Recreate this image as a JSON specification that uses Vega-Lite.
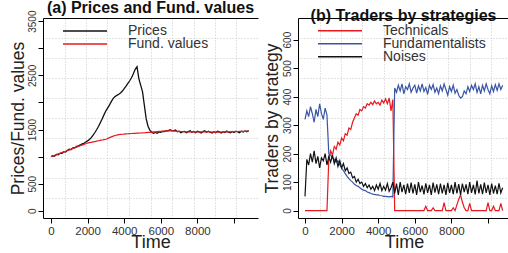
{
  "$schema": "https://vega.github.io/schema/vega-lite/v6.json",
  "background": "white",
  "padding": {"left": 9, "top": 0, "right": 0, "bottom": 0},
  "bounds": "flush",
  "spacing": 40,
  "resolve": {"scale": {"color": "independent"}, "legend": {"color": "independent"}},
  "config": {
    "view": {"stroke": null},
    "font": "Liberation Sans",
    "axis": {"domainColor": "black", "tickColor": "black", "labelColor": "#333333", "titleColor": "#222222", "labelFont": "Liberation Sans", "titleFont": "Liberation Sans", "titleFontWeight": "normal", "labelOverlap": false, "labelFlush": false, "gridColor": "#c8c8c8", "gridDash": [1, 2], "gridWidth": 1},
    "title": {"fontSize": 16, "fontWeight": "bold", "font": "Liberation Sans", "color": "#111111", "offset": -6, "anchor": "middle", "frame": "group"}
  },
  "datasets": {
    "left": [
      {"t":0,"p":1000,"f":1000},{"t":100,"p":1015,"f":1012},{"t":200,"p":1010,"f":1025},{"t":300,"p":1040,"f":1037},{"t":400,"p":1035,"f":1050},
      {"t":500,"p":1065,"f":1062},{"t":600,"p":1060,"f":1075},{"t":700,"p":1090,"f":1087},{"t":800,"p":1085,"f":1100},{"t":900,"p":1115,"f":1112},
      {"t":1000,"p":1135,"f":1125},{"t":1100,"p":1130,"f":1137},{"t":1200,"p":1160,"f":1150},{"t":1300,"p":1165,"f":1162},{"t":1400,"p":1190,"f":1175},
      {"t":1500,"p":1200,"f":1187},{"t":1600,"p":1215,"f":1200},{"t":1700,"p":1235,"f":1212},{"t":1800,"p":1245,"f":1225},{"t":1900,"p":1270,"f":1237},
      {"t":2000,"p":1290,"f":1250},{"t":2100,"p":1315,"f":1257},{"t":2200,"p":1350,"f":1264},{"t":2300,"p":1395,"f":1271},{"t":2400,"p":1445,"f":1278},
      {"t":2500,"p":1500,"f":1285},{"t":2600,"p":1560,"f":1292},{"t":2700,"p":1630,"f":1299},{"t":2800,"p":1700,"f":1306},{"t":2900,"p":1775,"f":1313},
      {"t":3000,"p":1845,"f":1320},{"t":3100,"p":1900,"f":1335},{"t":3200,"p":1955,"f":1350},{"t":3300,"p":2020,"f":1365},{"t":3400,"p":2075,"f":1378},
      {"t":3500,"p":2110,"f":1390},{"t":3600,"p":2130,"f":1398},{"t":3700,"p":2150,"f":1404},{"t":3800,"p":2175,"f":1409},{"t":3900,"p":2210,"f":1413},
      {"t":4000,"p":2255,"f":1416},{"t":4100,"p":2300,"f":1419},{"t":4200,"p":2350,"f":1422},{"t":4300,"p":2400,"f":1424},{"t":4400,"p":2455,"f":1426},
      {"t":4500,"p":2530,"f":1428},{"t":4600,"p":2610,"f":1430},{"t":4700,"p":2660,"f":1432},{"t":4800,"p":2440,"f":1434},{"t":4900,"p":2320,"f":1436},
      {"t":5000,"p":2200,"f":1438},{"t":5100,"p":1950,"f":1440},{"t":5200,"p":1700,"f":1443},{"t":5300,"p":1560,"f":1446},{"t":5400,"p":1490,"f":1449},
      {"t":5500,"p":1450,"f":1452},{"t":5600,"p":1430,"f":1455},{"t":5700,"p":1445,"f":1458},{"t":5800,"p":1430,"f":1461},{"t":5900,"p":1455,"f":1464},
      {"t":6000,"p":1450,"f":1467},{"t":6100,"p":1465,"f":1470},{"t":6200,"p":1460,"f":1472},{"t":6300,"p":1480,"f":1474},{"t":6400,"p":1475,"f":1476},
      {"t":6500,"p":1495,"f":1478},{"t":6600,"p":1480,"f":1476},{"t":6700,"p":1475,"f":1473},{"t":6800,"p":1490,"f":1470},{"t":6900,"p":1460,"f":1467},
      {"t":7000,"p":1470,"f":1465},{"t":7100,"p":1440,"f":1463},{"t":7200,"p":1460,"f":1461},{"t":7300,"p":1465,"f":1459},{"t":7400,"p":1440,"f":1458},
      {"t":7500,"p":1460,"f":1457},{"t":7600,"p":1475,"f":1456},{"t":7700,"p":1450,"f":1455},{"t":7800,"p":1465,"f":1455},{"t":7900,"p":1440,"f":1454},
      {"t":8000,"p":1470,"f":1454},{"t":8100,"p":1455,"f":1455},{"t":8200,"p":1435,"f":1456},{"t":8300,"p":1460,"f":1457},{"t":8400,"p":1475,"f":1458},
      {"t":8500,"p":1450,"f":1457},{"t":8600,"p":1470,"f":1456},{"t":8700,"p":1450,"f":1455},{"t":8800,"p":1435,"f":1454},{"t":8900,"p":1460,"f":1453},
      {"t":9000,"p":1440,"f":1452},{"t":9100,"p":1470,"f":1452},{"t":9200,"p":1455,"f":1453},{"t":9300,"p":1435,"f":1454},{"t":9400,"p":1460,"f":1455},
      {"t":9500,"p":1445,"f":1456},{"t":9600,"p":1470,"f":1457},{"t":9700,"p":1450,"f":1458},{"t":9800,"p":1440,"f":1459},{"t":9900,"p":1465,"f":1460},
      {"t":10000,"p":1445,"f":1461},{"t":10100,"p":1470,"f":1462},{"t":10200,"p":1455,"f":1463},{"t":10300,"p":1440,"f":1464},{"t":10400,"p":1470,"f":1465},
      {"t":10500,"p":1455,"f":1466},{"t":10600,"p":1475,"f":1467},{"t":10700,"p":1460,"f":1468},{"t":10800,"p":1480,"f":1469}
    ],
    "right": [
      {"t":0,"te":0,"fu":320,"no":50},{"t":100,"te":0,"fu":350,"no":180},{"t":200,"te":0,"fu":330,"no":160},{"t":300,"te":0,"fu":365,"no":200},{"t":400,"te":0,"fu":340,"no":170},
      {"t":500,"te":0,"fu":310,"no":210},{"t":600,"te":0,"fu":355,"no":165},{"t":700,"te":0,"fu":330,"no":190},{"t":800,"te":0,"fu":375,"no":150},{"t":900,"te":0,"fu":340,"no":185},
      {"t":1000,"te":0,"fu":320,"no":175},{"t":1100,"te":0,"fu":360,"no":200},{"t":1200,"te":0,"fu":335,"no":160},{"t":1300,"te":180,"fu":200,"no":190},{"t":1400,"te":210,"fu":195,"no":170},
      {"t":1500,"te":195,"fu":185,"no":195},{"t":1600,"te":225,"fu":180,"no":165},{"t":1700,"te":215,"fu":170,"no":185},{"t":1800,"te":240,"fu":175,"no":155},{"t":1900,"te":230,"fu":160,"no":175},
      {"t":2000,"te":255,"fu":150,"no":150},{"t":2100,"te":245,"fu":140,"no":165},{"t":2200,"te":270,"fu":130,"no":140},{"t":2300,"te":265,"fu":120,"no":150},{"t":2400,"te":290,"fu":112,"no":130},
      {"t":2500,"te":285,"fu":105,"no":135},{"t":2600,"te":310,"fu":100,"no":115},{"t":2700,"te":325,"fu":92,"no":120},{"t":2800,"te":340,"fu":88,"no":100},{"t":2900,"te":335,"fu":85,"no":110},
      {"t":3000,"te":355,"fu":80,"no":95},{"t":3100,"te":350,"fu":75,"no":100},{"t":3200,"te":365,"fu":72,"no":85},{"t":3300,"te":360,"fu":70,"no":95},{"t":3400,"te":375,"fu":65,"no":80},
      {"t":3500,"te":370,"fu":63,"no":90},{"t":3600,"te":380,"fu":60,"no":75},{"t":3700,"te":372,"fu":58,"no":85},{"t":3800,"te":385,"fu":57,"no":70},{"t":3900,"te":375,"fu":55,"no":90},
      {"t":4000,"te":380,"fu":55,"no":75},{"t":4100,"te":370,"fu":53,"no":95},{"t":4200,"te":388,"fu":52,"no":70},{"t":4300,"te":378,"fu":50,"no":85},{"t":4400,"te":392,"fu":50,"no":72},
      {"t":4500,"te":375,"fu":49,"no":95},{"t":4600,"te":395,"fu":48,"no":68},{"t":4700,"te":350,"fu":50,"no":80},{"t":4800,"te":390,"fu":48,"no":100},{"t":4900,"te":0,"fu":430,"no":60},
      {"t":5000,"te":0,"fu":415,"no":95},{"t":5100,"te":0,"fu":440,"no":55},{"t":5200,"te":0,"fu":420,"no":100},{"t":5300,"te":0,"fu":445,"no":65},{"t":5400,"te":0,"fu":410,"no":90},
      {"t":5500,"te":0,"fu":435,"no":58},{"t":5600,"te":0,"fu":425,"no":95},{"t":5700,"te":0,"fu":445,"no":62},{"t":5800,"te":0,"fu":415,"no":98},{"t":5900,"te":0,"fu":430,"no":60},
      {"t":6000,"te":0,"fu":440,"no":92},{"t":6100,"te":0,"fu":412,"no":55},{"t":6200,"te":0,"fu":438,"no":100},{"t":6300,"te":0,"fu":420,"no":65},{"t":6400,"te":0,"fu":445,"no":88},
      {"t":6500,"te":0,"fu":418,"no":57},{"t":6600,"te":15,"fu":432,"no":96},{"t":6700,"te":0,"fu":408,"no":62},{"t":6800,"te":0,"fu":440,"no":90},{"t":6900,"te":0,"fu":425,"no":55},
      {"t":7000,"te":10,"fu":442,"no":98},{"t":7100,"te":0,"fu":415,"no":63},{"t":7200,"te":0,"fu":430,"no":92},{"t":7300,"te":0,"fu":410,"no":58},{"t":7400,"te":0,"fu":438,"no":95},
      {"t":7500,"te":0,"fu":420,"no":60},{"t":7600,"te":28,"fu":445,"no":90},{"t":7700,"te":0,"fu":425,"no":55},{"t":7800,"te":0,"fu":405,"no":97},{"t":7900,"te":0,"fu":435,"no":62},
      {"t":8000,"te":0,"fu":418,"no":90},{"t":8100,"te":10,"fu":440,"no":58},{"t":8200,"te":0,"fu":412,"no":100},{"t":8300,"te":20,"fu":425,"no":60},{"t":8400,"te":40,"fu":405,"no":93},
      {"t":8500,"te":55,"fu":395,"no":55},{"t":8600,"te":30,"fu":400,"no":95},{"t":8700,"te":10,"fu":420,"no":65},{"t":8800,"te":0,"fu":410,"no":92},{"t":8900,"te":0,"fu":435,"no":58},
      {"t":9000,"te":25,"fu":418,"no":100},{"t":9100,"te":0,"fu":440,"no":62},{"t":9200,"te":0,"fu":425,"no":90},{"t":9300,"te":0,"fu":445,"no":57},{"t":9400,"te":0,"fu":415,"no":105},
      {"t":9500,"te":0,"fu":435,"no":60},{"t":9600,"te":0,"fu":410,"no":92},{"t":9700,"te":0,"fu":440,"no":58},{"t":9800,"te":0,"fu":420,"no":98},{"t":9900,"te":0,"fu":445,"no":62},
      {"t":10000,"te":28,"fu":425,"no":90},{"t":10100,"te":0,"fu":410,"no":55},{"t":10200,"te":0,"fu":438,"no":95},{"t":10300,"te":15,"fu":418,"no":60},{"t":10400,"te":0,"fu":442,"no":88},
      {"t":10500,"te":0,"fu":422,"no":58},{"t":10600,"te":0,"fu":445,"no":96},{"t":10700,"te":25,"fu":425,"no":62},{"t":10800,"te":0,"fu":440,"no":80}
    ]
  },
  "hconcat": [
    {
      "width": 215,
      "height": 200,
      "title": {"text": "(a) Prices and Fund. values"},
      "data": {"name": "left"},
      "resolve": {"axis": {"x": "independent", "y": "independent"}},
      "layer": [
        {
          "mark": {"type": "line", "strokeWidth": 1.3},
          "encoding": {
            "x": {"field": "t", "type": "quantitative", "scale": {"domain": [-437, 11311], "nice": false, "zero": false},
              "axis": {"orient": "top", "grid": true, "values": [738, 1913, 3087, 4262, 5437, 6612, 7787, 8962, 10136], "ticks": false, "labels": false, "domain": true, "title": null, "minExtent": 0, "maxExtent": 0, "offset": 0}},
            "y": {"field": "p", "type": "quantitative", "scale": {"domain": [-133, 3558], "nice": false, "zero": false},
              "axis": {"orient": "left", "grid": true, "values": [236, 605, 974, 1343, 1713, 2082, 2451, 2820, 3189], "ticks": false, "labels": false, "domain": false, "title": null, "minExtent": 0, "maxExtent": 0}},
            "color": {"datum": "Prices", "type": "nominal",
              "scale": {"domain": ["Prices", "Fund. values"], "range": ["#111111", "#e8191f"]},
              "legend": {"orient": "none", "legendX": 19, "legendY": 7, "title": null, "symbolType": "M-1,0L1,0", "symbolSize": 1936, "symbolStrokeWidth": 1.5, "symbolFillColor": "transparent", "labelFontSize": 14, "labelOffset": 20, "labelColor": "#333333", "labelFont": "Liberation Sans", "clipHeight": 12, "rowPadding": -3, "padding": 0}}
          }
        },
        {
          "mark": {"type": "line", "strokeWidth": 1.2},
          "encoding": {
            "x": {"field": "t", "type": "quantitative",
              "axis": {"orient": "bottom", "grid": false, "values": [0, 2000, 4000, 6000, 8000, 10000], "labelExpr": "datum.value == 10000 ? '' : datum.label", "format": "d", "tickSize": 5, "labelPadding": 2, "labelFontSize": 11.5, "domain": true, "title": "Time", "titleFontSize": 18, "titleX": 107.5, "titleY": 29, "titleAlign": "center", "titleBaseline": "alphabetic"}},
            "y": {"field": "f", "type": "quantitative",
              "axis": {"orient": "left", "grid": false, "values": [0, 500, 1000, 1500, 2000, 2500, 3000, 3500], "labelExpr": "datum.value == 1000 || datum.value == 2000 || datum.value == 3000 ? '' : datum.label", "format": "d", "tickSize": 5, "labelPadding": 1, "labelFontSize": 10, "labelAngle": 270, "labelAlign": "center", "labelBaseline": "bottom", "domain": true, "title": "Prices/Fund. values", "titleFontSize": 17.5, "titleAngle": 270, "titleX": -19.5, "titleY": 100, "titleAlign": "center", "titleBaseline": "alphabetic"}},
            "color": {"datum": "Fund. values", "type": "nominal"}
          }
        }
      ]
    },
    {
      "width": 211,
      "height": 200,
      "title": {"text": "(b) Traders by strategies"},
      "data": {"name": "right"},
      "resolve": {"axis": {"x": "independent", "y": "independent"}},
      "layer": [
        {
          "mark": {"type": "line", "strokeWidth": 1.2},
          "encoding": {
            "x": {"field": "t", "type": "quantitative", "scale": {"domain": [-383, 11147], "nice": false, "zero": false},
              "axis": {"orient": "top", "grid": true, "values": [792, 1967, 3141, 4316, 5491, 6666, 7840, 9015, 10190], "ticks": false, "labels": false, "domain": true, "title": null, "minExtent": 0, "maxExtent": 0, "offset": 0}},
            "y": {"field": "te", "type": "quantitative", "scale": {"domain": [-26, 676], "nice": false, "zero": false},
              "axis": {"orient": "left", "grid": true, "values": [44, 114, 185, 255, 325, 395, 465, 536, 606], "ticks": false, "labels": false, "domain": false, "title": null, "minExtent": 0, "maxExtent": 0}},
            "color": {"datum": "Technicals", "type": "nominal",
              "scale": {"domain": ["Technicals", "Fundamentalists", "Noises"], "range": ["#e8191f", "#3a55a5", "#111111"]},
              "legend": {"orient": "none", "legendX": 19, "legendY": 7, "title": null, "symbolType": "M-1,0L1,0", "symbolSize": 1936, "symbolStrokeWidth": 1.5, "symbolFillColor": "transparent", "labelFontSize": 14, "labelOffset": 20, "labelColor": "#333333", "labelFont": "Liberation Sans", "clipHeight": 11.5, "rowPadding": -3.5, "padding": 0}}
          }
        },
        {
          "mark": {"type": "line", "strokeWidth": 1.2},
          "encoding": {
            "x": {"field": "t", "type": "quantitative",
              "axis": {"orient": "bottom", "grid": false, "values": [0, 2000, 4000, 6000, 8000, 10000], "labelExpr": "datum.value == 10000 ? '' : datum.label", "format": "d", "tickSize": 5, "labelPadding": 2, "labelFontSize": 11.5, "domain": true, "title": "Time", "titleFontSize": 18, "titleX": 106, "titleY": 29, "titleAlign": "center", "titleBaseline": "alphabetic"}},
            "y": {"field": "fu", "type": "quantitative",
              "axis": {"orient": "left", "grid": false, "values": [0, 100, 200, 300, 400, 500, 600], "format": "d", "tickSize": 5, "labelPadding": 1, "labelFontSize": 10, "labelAngle": 270, "labelAlign": "center", "labelBaseline": "bottom", "domain": true, "title": "Traders by strategy", "titleFontSize": 17.5, "titleAngle": 270, "titleX": -21, "titleY": 100, "titleAlign": "center", "titleBaseline": "alphabetic"}},
            "color": {"datum": "Fundamentalists", "type": "nominal"}
          }
        },
        {
          "mark": {"type": "line", "strokeWidth": 1.2},
          "encoding": {
            "x": {"field": "t", "type": "quantitative", "axis": null},
            "y": {"field": "no", "type": "quantitative", "axis": null},
            "color": {"datum": "Noises", "type": "nominal"}
          }
        }
      ]
    }
  ]
}
